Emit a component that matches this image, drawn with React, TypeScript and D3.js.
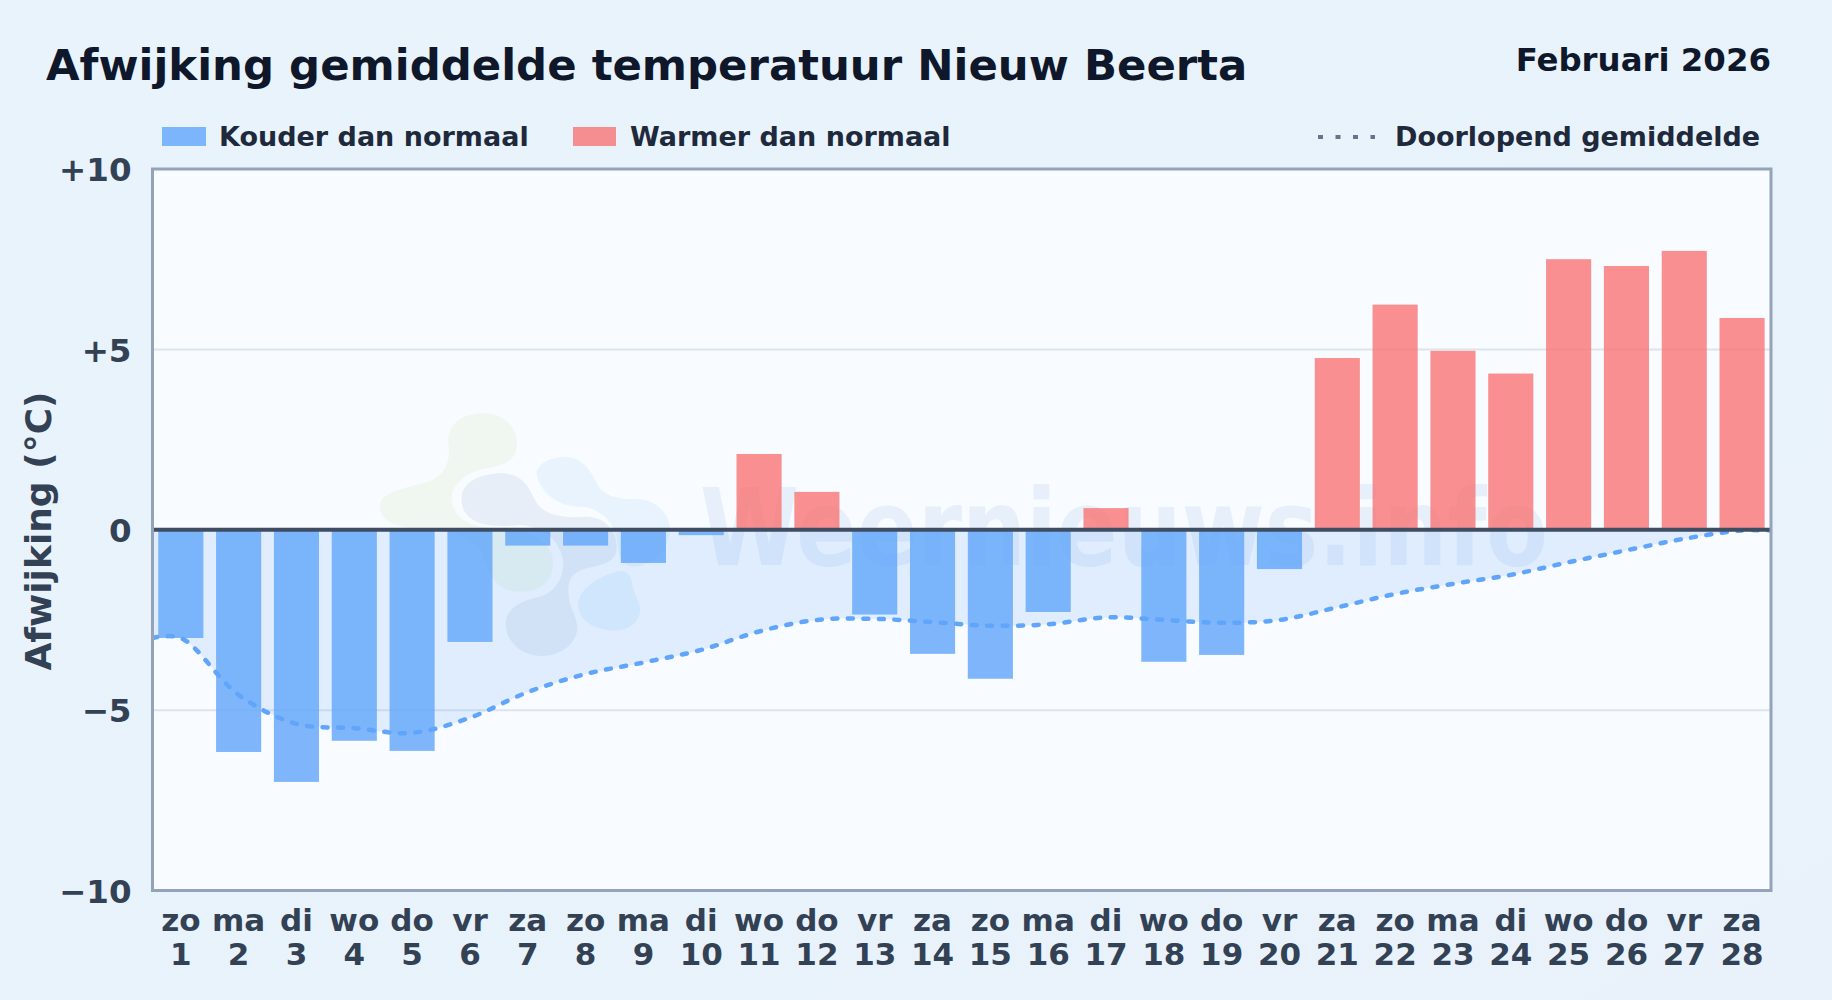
import React, { useRef, useEffect } from "react";
import * as d3 from "d3";

const weekdays = ["zo","ma","di","wo","do","vr","za","zo","ma","di","wo","do","vr","za","zo","ma","di","wo","do","vr","za","zo","ma","di","wo","do","vr","za"];
const days = d3.range(1, 29);
const deviation = [-3.0,-6.16,-6.99,-5.85,-6.13,-3.11,-0.44,-0.44,-0.92,-0.15,2.1,1.05,-2.35,-3.44,-4.13,-2.28,0.6,-3.66,-3.47,-1.09,4.76,6.24,4.96,4.33,7.5,7.31,7.73,5.87];
const runningMean = [-3.0,-4.58,-5.38,-5.5,-5.63,-5.21,-4.5,-4.0,-3.68,-3.33,-2.82,-2.5,-2.47,-2.56,-2.66,-2.62,-2.43,-2.5,-2.58,-2.5,-2.15,-1.78,-1.5,-1.25,-0.9,-0.57,-0.25,-0.02];
const yTicks = [10, 5, 0, -5, -10];
const yLabels = ["+10", "+5", "0", "−5", "−10"];

const width = 1832;
const height = 1000;
const left = 152.5;
const right = 1771;
const top = 169;
const bottom = 890.5;
const font = "'DejaVu Sans', sans-serif";

const App: React.FC = () => {
    const svgRef = useRef<SVGSVGElement | null>(null);

    useEffect(() => {
        if (!svgRef.current) return;
        const svg = d3.select(svgRef.current);
        svg.selectAll("*").remove();

        const x = d3.scaleBand<number>().domain(days).range([left - 0.6, right]).paddingInner(0.22).paddingOuter(0.11);
        const y = d3.scaleLinear().domain([-10, 10]).range([bottom, top]);

        const defs = svg.append("defs");
        const grad = defs.append("linearGradient").attr("id", "page").attr("x1", 0).attr("y1", 0).attr("x2", 1).attr("y2", 1);
        grad.append("stop").attr("offset", "0%").attr("stop-color", "#e8f3fc");
        grad.append("stop").attr("offset", "100%").attr("stop-color", "#e9f2fb");
        defs.append("clipPath").attr("id", "plot").append("rect")
            .attr("x", left).attr("y", top).attr("width", right - left).attr("height", bottom - top);

        svg.append("rect").attr("width", width).attr("height", height).attr("fill", "url(#page)");
        svg.append("rect").attr("x", left).attr("y", top).attr("width", right - left).attr("height", bottom - top).attr("fill", "#f8fbff");

        // watermark
        const logo = svg.append("g").attr("transform", "translate(340,390) scale(0.3333)");
        const blobs = [
            ["M430 70C500 70 535 120 530 170C525 215 490 225 440 235C380 245 340 280 335 320C335 370 370 410 460 415C540 410 640 440 640 520C640 580 590 610 530 605C470 600 450 560 430 500C400 430 320 420 230 415C150 410 115 380 120 345C125 310 170 300 250 280C310 265 335 220 325 160C320 100 370 70 430 70Z", "rgba(190,220,130,0.12)"],
            ["M365 320C370 270 430 250 490 250C550 255 565 290 585 330C610 380 680 385 740 380C800 380 835 430 830 480C825 520 780 525 740 535C680 550 680 590 690 640C700 670 715 700 712 720C700 780 640 800 600 798C540 795 495 750 497 700C500 650 550 630 600 620C650 605 670 560 670 520C665 460 620 410 540 405C440 415 360 400 365 320Z", "rgba(90,130,180,0.10)"],
            ["M590 250C595 215 640 200 680 202C730 205 750 240 770 280C790 320 840 330 890 327C950 330 990 370 990 420C985 470 960 510 900 528C870 535 840 525 835 480C835 420 800 360 730 350C660 355 600 310 590 250Z", "rgba(120,190,250,0.13)"],
            ["M715 640C720 590 780 560 830 545C860 535 878 560 878 590C885 620 905 640 900 670C890 710 850 725 810 722C760 715 710 690 715 640Z", "rgba(120,190,250,0.14)"],
        ];
        blobs.forEach(([d, fill]) => logo.append("path").attr("d", d).attr("fill", fill));
        svg.append("text").attr("x", 700).attr("y", 565).attr("font-family", font).attr("font-weight", "bold")
            .attr("font-size", 107).attr("textLength", 848).attr("lengthAdjust", "spacingAndGlyphs")
            .attr("fill", "rgba(96,150,220,0.11)").text("Weernieuws.info");

        // grid
        svg.append("g").selectAll("line").data(yTicks.filter(t => t === 5 || t === -5)).join("line")
            .attr("x1", left).attr("x2", right).attr("y1", d => y(d)).attr("y2", d => y(d))
            .attr("stroke", "#dde5ec").attr("stroke-width", 2);

        const mx = (_: number, i: number) => i === 0 ? left : i === runningMean.length + 1 ? right : x(days[i - 1])! + x.bandwidth() / 2;
        const meanPts = [runningMean[0], ...runningMean, runningMean[runningMean.length - 1]];
        const curve = d3.curveCatmullRom.alpha(0.5);

        svg.append("path").datum(meanPts).attr("clip-path", "url(#plot)")
            .attr("d", d3.area<number>().x(mx as any).y0(y(0)).y1(d => y(d)).curve(curve) as any)
            .attr("fill", "rgba(96,165,250,0.16)");

        svg.append("g").selectAll("rect").data(deviation).join("rect")
            .attr("x", (_, i) => x(days[i])!)
            .attr("width", x.bandwidth())
            .attr("y", d => y(Math.max(0, d)))
            .attr("height", d => Math.abs(y(d) - y(0)))
            .attr("fill", d => d < 0 ? "rgba(96,165,250,0.8)" : "rgba(248,113,113,0.78)");

        svg.append("path").datum(meanPts).attr("clip-path", "url(#plot)")
            .attr("d", d3.line<number>().x(mx as any).y(d => y(d)).curve(curve) as any)
            .attr("fill", "none").attr("stroke", "#60a5fa").attr("stroke-width", 4.5)
            .attr("stroke-dasharray", "5 10.5").attr("stroke-linecap", "round");

        svg.append("line").attr("x1", left).attr("x2", right).attr("y1", y(0)).attr("y2", y(0))
            .attr("stroke", "#3f4d63").attr("stroke-width", 4);

        svg.append("rect").attr("x", left).attr("y", top).attr("width", right - left).attr("height", bottom - top)
            .attr("fill", "none").attr("stroke", "#94a3b8").attr("stroke-width", 3);

        // axes
        const axisY = d3.axisLeft(y).tickValues(yTicks).tickSize(0).tickPadding(21)
            .tickFormat((d) => yLabels[yTicks.indexOf(d as number)]);
        const gy = svg.append("g").attr("transform", `translate(${left},0)`).call(axisY);
        gy.select(".domain").remove();
        gy.selectAll("text").attr("font-family", font).attr("font-weight", "bold").attr("font-size", 32.5).attr("fill", "#334155").attr("dy", "0.36em");

        const axisX = d3.axisBottom(x).tickSize(0).tickFormat(() => "");
        const gx = svg.append("g").attr("transform", `translate(0,${bottom})`).call(axisX);
        gx.select(".domain").remove();
        gx.selectAll<SVGTextElement, number>("text").each(function (d) {
            const t = d3.select(this).attr("y", 0).attr("dy", null)
                .attr("font-family", font).attr("font-weight", "bold").attr("font-size", 31).attr("fill", "#334155");
            t.append("tspan").attr("x", 0).attr("y", 40.5).text(weekdays[d - 1]);
            t.append("tspan").attr("x", 0).attr("y", 74).text(d);
        });

        svg.append("text").attr("transform", `translate(51,531) rotate(-90)`).attr("text-anchor", "middle")
            .attr("font-family", font).attr("font-weight", "bold").attr("font-size", 36).attr("fill", "#334155")
            .text("Afwijking (°C)");

        // title
        svg.append("text").attr("x", 46).attr("y", 80).attr("font-family", font).attr("font-weight", "bold")
            .attr("font-size", 43.4).attr("fill", "#0f172a").text("Afwijking gemiddelde temperatuur Nieuw Beerta");
        svg.append("text").attr("x", 1771).attr("y", 70.5).attr("text-anchor", "end").attr("font-family", font).attr("font-weight", "bold")
            .attr("font-size", 32.4).attr("fill", "#0f172a").text("Februari 2026");

        // legend
        const legend = svg.append("g").attr("font-family", font).attr("font-weight", "bold").attr("font-size", 27).attr("fill", "#1e293b");
        legend.append("rect").attr("x", 162).attr("y", 127).attr("width", 44).attr("height", 19).attr("fill", "rgba(96,165,250,0.8)");
        legend.append("text").attr("x", 219).attr("y", 146).text("Kouder dan normaal");
        legend.append("rect").attr("x", 573).attr("y", 127).attr("width", 43).attr("height", 19).attr("fill", "rgba(248,113,113,0.78)");
        legend.append("text").attr("x", 630).attr("y", 146).text("Warmer dan normaal");
        legend.append("line").attr("x1", 1318).attr("x2", 1375).attr("y1", 137).attr("y2", 137)
            .attr("stroke", "#64748b").attr("stroke-width", 4).attr("stroke-dasharray", "5 12.5");
        legend.append("text").attr("x", 1395).attr("y", 146).text("Doorlopend gemiddelde");
    }, []);

    return <svg ref={svgRef} width={width} height={height} style={{ position: "absolute", left: 0, top: 0, display: "block" }} />;
};

export default App;
